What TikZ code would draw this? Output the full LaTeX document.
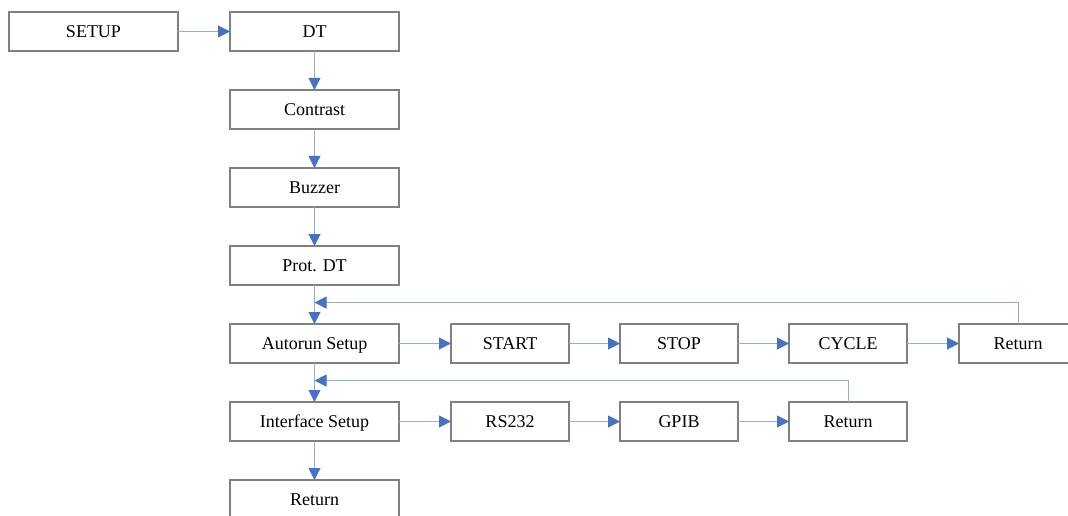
\documentclass[tikz,border=0pt]{standalone}
\usepackage{fontspec}
\setmainfont{Liberation Serif}
\usetikzlibrary{positioning}
\usetikzlibrary{arrows.meta}
\usetikzlibrary{calc}
\definecolor{boxgray}{RGB}{128,128,128}
\definecolor{linkblue}{RGB}{150,172,214}
\definecolor{tipblue}{RGB}{68,114,196}
\tikzset{
    mynode/.style = {rectangle, draw=boxgray, line width=1.2pt, align=center, fill=white, font=\fontsize{18}{20}\selectfont, text=black, minimum width=169pt, minimum height=39pt, inner sep=0pt, outer sep=0pt, text height=12pt, text depth=0pt},
    mynodes/.style = {mynode, minimum width=118pt},
    edgeb/.style = {-{Triangle[length=12pt,width=12pt,color=tipblue]}, line width=1pt, linkblue},
    edgen/.style = {-, line width=1pt, linkblue}
}
\begin{document}
\begin{tikzpicture}[x=1pt, y=-1pt, node distance=39pt and 52pt]
  \useasboundingbox (0,0) rectangle (1068,516);
  \node[mynode] (setup) at (93.5,31.5) {SETUP};
  \node[mynode, right=52pt of setup] (dt) {DT};
  \node[mynode, below=of dt] (contrast) {Contrast};
  \node[mynode, below=of contrast] (buzzer) {Buzzer};
  \node[mynode, below=of buzzer] (prot) {Prot. DT};
  \node[mynode, below=of prot] (autorun) {Autorun Setup};
  \node[mynode, below=of autorun] (iface) {Interface Setup};
  \node[mynode, below=of iface] (ret) {Return};
  % autorun row
  \node[mynodes, right=of autorun] (start) {START};
  \node[mynodes, right=51pt of start] (stop) {STOP};
  \node[mynodes, right=51pt of stop] (cycle) {CYCLE};
  \node[mynodes, right=52pt of cycle] (reta) {Return};
  % interface row
  \node[mynodes, right=of iface] (rs) {RS232};
  \node[mynodes, right=51pt of rs] (gpib) {GPIB};
  \node[mynodes, right=51pt of gpib] (retb) {Return};
  \coordinate (fba) at ($(prot.south)!0.45!(autorun.north)$);
  \coordinate (fbb) at ($(autorun.south)!0.45!(iface.north)$);
  \draw[edgeb] (setup) -- (dt);
  \draw[edgeb] (dt) -- (contrast);
  \draw[edgeb] (contrast) -- (buzzer);
  \draw[edgeb] (buzzer) -- (prot);
  \draw[edgeb] (prot) -- (autorun);
  \draw[edgeb] (autorun) -- (iface);
  \draw[edgeb] (iface) -- (ret);
  \draw[edgeb] (autorun) -- (start);
  \draw[edgeb] (start) -- (stop);
  \draw[edgeb] (stop) -- (cycle);
  \draw[edgeb] (cycle) -- (reta);
  \draw[edgeb] (iface) -- (rs);
  \draw[edgeb] (rs) -- (gpib);
  \draw[edgeb] (gpib) -- (retb);
  \draw[edgeb] (reta.north) |- (fba);
  \draw[edgeb] (retb.north) |- (fbb);
\end{tikzpicture}
\end{document}
